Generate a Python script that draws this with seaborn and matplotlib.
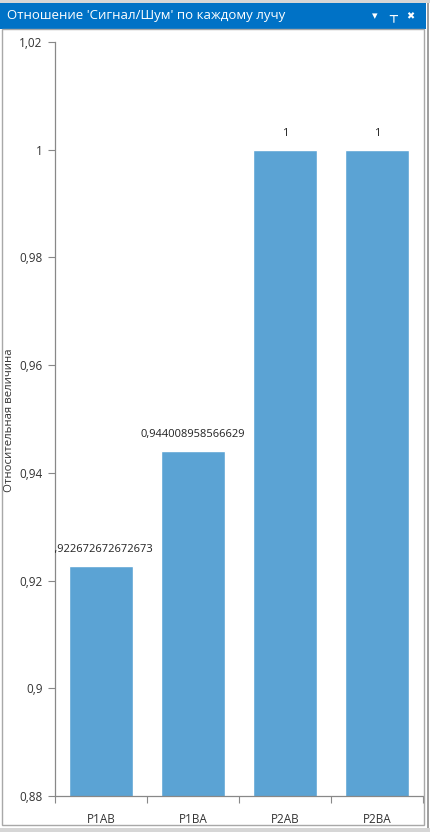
import matplotlib
matplotlib.use("Agg")
import matplotlib.pyplot as plt
from matplotlib.patches import Rectangle
import pandas as pd
import seaborn as sns

# Chart data
categories = ["P1AB", "P1BA", "P2AB", "P2BA"]
values = [0.922672672672673, 0.944008958566629, 1.0, 1.0]
value_labels = ["0,922672672672673", "0,944008958566629", "1", "1"]
y_ticks = [0.88, 0.90, 0.92, 0.94, 0.96, 0.98, 1.00, 1.02]
y_tick_labels = ["0,88", "0,9", "0,92", "0,94", "0,96", "0,98", "1", "1,02"]
title = "Отношение 'Сигнал/Шум' по каждому лучу"
y_label = "Относительная величина"

df = pd.DataFrame({"beam": categories, "ratio": values})

sns.set_theme(style="white")
plt.rcParams["font.family"] = ["Open Sans", "DejaVu Sans"]

W, H = 430, 832
fig = plt.figure(figsize=(W / 100, H / 100), dpi=100)
fig.patch.set_facecolor("white")

# window chrome
def px_rect(x, y, w, h, **kw):
    fig.patches.append(Rectangle((x / W, 1 - (y + h) / H), w / W, h / H,
                                 transform=fig.transFigure, figure=fig, **kw))

px_rect(0, 0, W, 3, color="#d6d6d6", lw=0)
px_rect(0, 3, 426, 26, color="#0072c6", lw=0)
px_rect(427, 3, 1.5, 826, color="#a0a0a0", lw=0)
px_rect(0, 828, W, 4, color="#d6d6d6", lw=0)
px_rect(2, 29, 422, 796, facecolor="none", edgecolor="#a8a8a8", lw=1)

fig.text(7 / W, 1 - 16 / H, title, color="white", fontsize=9.5, va="center", ha="left")
fig.text(375 / W, 1 - 16 / H, "▾", color="white", fontsize=8, va="center", ha="center",
         family="DejaVu Sans")
fig.text(393 / W, 1 - 16 / H, "⊥", color="white", fontsize=8, va="center", ha="center",
         family="DejaVu Sans", rotation=180, fontweight="bold")
fig.text(410 / W, 1 - 16 / H, "✖", color="white", fontsize=7, va="center", ha="center",
         family="DejaVu Sans")

# plot area
ax = fig.add_axes([55 / W, 1 - 796 / H, 368 / W, 754 / H])
sns.barplot(data=df, x="beam", y="ratio", color="#5ba3d4", saturation=1,
            width=0.7, ax=ax)

ax.set_ylim(0.88, 1.02)
ax.set_xlim(-0.5, 3.5)
ax.set_yticks(y_ticks)
ax.set_yticklabels(y_tick_labels)
ax.set_xticks(range(len(categories)))
ax.set_xticklabels(categories)
ax.set_xticks([-0.5, 0.5, 1.5, 2.5, 3.5], minor=True)
ax.tick_params(axis="x", which="major", length=0, pad=12, labelsize=8.5, labelcolor="#333333")
ax.tick_params(axis="x", which="minor", length=5, width=0.8, color="#888888", direction="out",
               bottom=True)
ax.tick_params(axis="y", length=5, width=0.8, color="#888888", direction="out", left=True,
               labelsize=8.5, labelcolor="#333333", pad=4)

for s in ["top", "right"]:
    ax.spines[s].set_visible(False)
for s in ["left", "bottom"]:
    ax.spines[s].set_color("#888888")
    ax.spines[s].set_linewidth(0.9)

ax.set_xlabel("")
ax.set_ylabel("")
fig.text(10 / W, 1 - 420 / H, y_label, rotation=90, fontsize=8.2, color="#333333",
         va="center", ha="center")

# value labels above bars, clipped to the plot area like the original
for i, (v, lab) in enumerate(zip(values, value_labels)):
    ax.annotate(lab, (i, v), xytext=(0, 11), textcoords="offset pixels",
                ha="center", va="bottom", fontsize=8, color="#222222", clip_on=True)

fig.savefig("out.png", dpi=100)
plt.close(fig)
